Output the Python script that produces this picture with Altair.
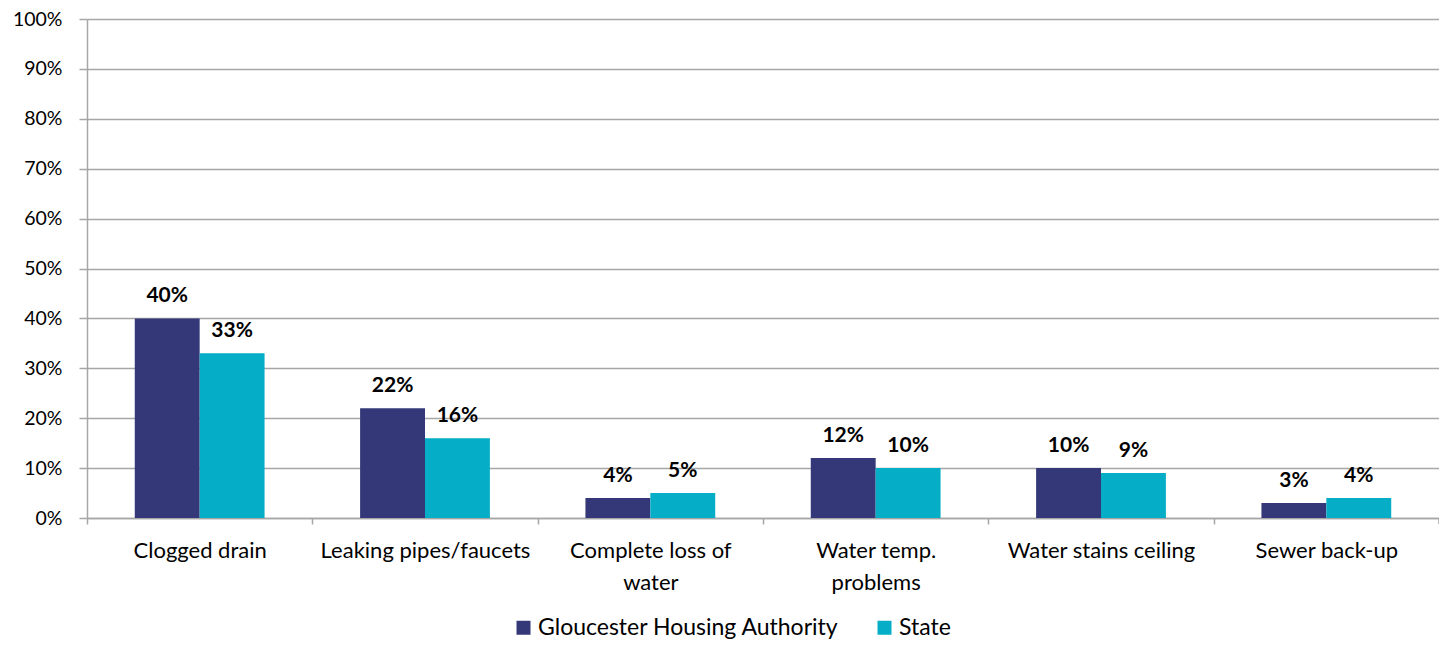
import altair as alt
import pandas as pd

categories = ["Clogged drain", "Leaking pipes/faucets", "Complete loss of|water",
              "Water temp.|problems", "Water stains ceiling", "Sewer back-up"]
series = ["Gloucester Housing Authority", "State"]
gha = [0.40, 0.22, 0.04, 0.12, 0.10, 0.03]
state = [0.33, 0.16, 0.05, 0.10, 0.09, 0.04]
colors = ["#343878", "#05AEC6"]

rows = []
for c, a, b in zip(categories, gha, state):
    rows.append({"cat": c, "series": series[0], "value": a})
    rows.append({"cat": c, "series": series[1], "value": b})
df = pd.DataFrame(rows)

W, H = 1352, 499
FONT = "Lato"
step = W / len(categories)

x = alt.X("cat:N", sort=categories, title=None,
          scale=alt.Scale(paddingInner=0.424, paddingOuter=0.212),
          axis=alt.Axis(labelExpr="split(datum.label, '|')", labelAngle=0,
                        labelFontSize=22, labelFont=FONT, labelColor="#000000",
                        labelLineHeight=32, labelPadding=16, labelLimit=0,
                        tickOffset=-step / 2, labelOffset=step / 2,
                        tickSize=6, tickColor="#a6a6a6", tickWidth=1.5,
                        domainColor="#a6a6a6", domainWidth=1.5))
xo = alt.XOffset("series:N", sort=series, scale=alt.Scale(paddingInner=0, paddingOuter=0))
y = alt.Y("value:Q", title=None, scale=alt.Scale(domain=[0, 1]),
          axis=alt.Axis(format=".0%", values=[i / 10 for i in range(11)],
                        labelFontSize=19.5, labelFont=FONT, labelColor="#000000",
                        labelPadding=17, tickSize=8, tickColor="#a6a6a6", tickWidth=1.5,
                        gridColor="#a6a6a6", gridWidth=1.5,
                        domainColor="#a6a6a6", domainWidth=1.5))

base = alt.Chart(df).encode(x=x, xOffset=xo, y=y)

bars = base.mark_bar().encode(
    color=alt.Color("series:N", sort=series,
                    scale=alt.Scale(domain=series, range=colors),
                    legend=alt.Legend(title=None, orient="none", direction="horizontal",
                                      legendX=425, legendY=597, padding=0,
                                      symbolType="square", symbolSize=196,
                                      symbolStrokeWidth=0, labelFontSize=23,
                                      labelFont=FONT, labelColor="#000000",
                                      labelLimit=0,
                                      columnPadding=34, labelOffset=3))
)

labels = base.mark_text(baseline="alphabetic", dy=-16, fontSize=21, fontWeight="bold",
                        font=FONT, color="#000000").encode(text=alt.Text("value:Q", format=".0%"))

right_tick = alt.Chart(pd.DataFrame({"k": [0]})).mark_rule(color="#a6a6a6", strokeWidth=1.5).encode(
    x=alt.value(W), y=alt.value(H), y2=alt.value(H + 6))

chart = alt.layer(bars, labels, right_tick).properties(
    width=W, height=H,
    autosize=alt.AutoSizeParams(type="none"),
    padding={"left": 79, "top": 11, "right": 0, "bottom": 121},
).configure_view(stroke=None).configure(background="white")

chart.save("out.html", embed_options={"renderer": "svg", "actions": False})
